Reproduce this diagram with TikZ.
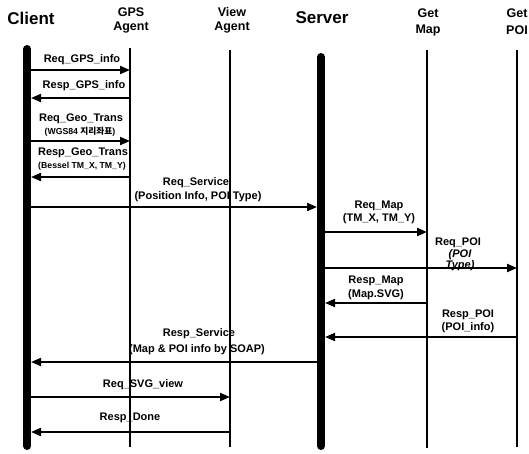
\documentclass[tikz,border=0pt]{standalone}
\usepackage{fontspec}
\setmainfont{Liberation Sans}
\newfontfamily\kr{Noto Sans CJK KR}
\usetikzlibrary{arrows.meta}
\begin{document}
\begin{tikzpicture}[x=1pt,y=-1pt,
  bighdr/.style={font=\bfseries\fontsize{17}{17}\selectfont, inner sep=0pt},
  smallhdr/.style={font=\bfseries\fontsize{12.5}{12.5}\selectfont, inner sep=0pt},
  thickline/.style={line width=8pt, line cap=round},
  thinline/.style={line width=1.3pt},
  msg/.style={line width=2pt, -{Triangle[length=10pt,width=8pt]}},
  lbl/.style={font=\bfseries\fontsize{11}{11}\selectfont, inner sep=0pt},
  sublbl/.style={font=\bfseries\fontsize{8.7}{8.7}\selectfont, inner sep=0pt},
  ilbl/.style={font=\bfseries\itshape\fontsize{11}{11}\selectfont, inner sep=0pt}]
\useasboundingbox (0,0) rectangle (529,453);
% headers
\node[bighdr] (hclient) at (31,18) {Client};
\node[smallhdr] (hgps) at (131,12) {GPS};
\node[smallhdr] (hgpsb) at (131,28) {Agent};
\node[smallhdr] (hview) at (232,12) {View};
\node[smallhdr] (hviewb) at (232,28) {Agent};
\node[bighdr] (hserver) at (322,18) {Server};
\node[smallhdr] (hmap) at (428,13) {Get};
\node[smallhdr] (hmapb) at (428,30) {Map};
\node[smallhdr] (hpoi) at (517,13) {Get};
\node[smallhdr] (hpoib) at (517,30) {POI};
% lifelines
\coordinate (cl1) at (27,49); \coordinate (cl2) at (27,446);
\coordinate (gp1) at (130,48); \coordinate (gp2) at (130,447);
\coordinate (vw1) at (230,50); \coordinate (vw2) at (230,447);
\coordinate (sv1) at (321,57); \coordinate (sv2) at (321,446);
\coordinate (mp1) at (427,50); \coordinate (mp2) at (427,448);
\coordinate (po1) at (517,50); \coordinate (po2) at (517,447);
\draw[thickline] (cl1) -- (cl2);
\draw[thickline] (sv1) -- (sv2);
\draw[thinline] (gp1) -- (gp2);
\draw[thinline] (vw1) -- (vw2);
\draw[thinline] (mp1) -- (mp2);
\draw[thinline] (po1) -- (po2);
% message end points
\coordinate (a1) at (31,70);  \coordinate (b1) at (130,70);
\coordinate (a2) at (130,98); \coordinate (b2) at (31,98);
\coordinate (a3) at (31,141); \coordinate (b3) at (130,141);
\coordinate (a4) at (130,177); \coordinate (b4) at (31,177);
\coordinate (a5) at (31,207); \coordinate (b5) at (317,207);
\coordinate (a6) at (325,232); \coordinate (b6) at (427,232);
\coordinate (a7) at (325,268); \coordinate (b7) at (517,268);
\coordinate (a8) at (427,303); \coordinate (b8) at (325,303);
\coordinate (a9) at (517,337); \coordinate (b9) at (325,337);
\coordinate (a10) at (317,362); \coordinate (b10) at (31,362);
\coordinate (a11) at (31,397); \coordinate (b11) at (230,397);
\coordinate (a12) at (230,432); \coordinate (b12) at (31,432);
\foreach \i in {1,...,12} {\draw[msg] (a\i) -- (b\i);}
% labels
\node[lbl] (l1) at (82,60) {Req\_GPS\_info};
\node[lbl] (l2) at (84,86) {Resp\_GPS\_info};
\node[lbl] (l3) at (81,119) {Req\_Geo\_Trans};
\node[sublbl] (l3s) at (80,132) {(WGS84 {\kr\bfseries 지리좌표})};
\node[lbl] (l4) at (83,153) {Resp\_Geo\_Trans};
\node[sublbl] (l4s) at (82,166) {(Bessel TM\_X, TM\_Y)};
\node[lbl] (l5) at (196,183) {Req\_Service};
\node[lbl] (l5s) at (198,197) {(Position Info, POI Type)};
\node[lbl] (l6) at (379,206) {Req\_Map};
\node[lbl] (l6s) at (379,219) {(TM\_X, TM\_Y)};
\node[lbl] (l7) at (458,243) {Req\_POI};
\node[ilbl] (l7s) at (460,255) {(POI};
\node[ilbl] (l7t) at (460,266) {Type)};
\node[lbl] (l8) at (376,281) {Resp\_Map};
\node[lbl] (l8s) at (376,295) {(Map.SVG)};
\node[lbl] (l9) at (468,315) {Resp\_POI};
\node[lbl] (l9s) at (468,328) {(POI\_info)};
\node[lbl] (l10) at (199,334) {Resp\_Service};
\node[lbl] (l10s) at (197,350) {(Map \& POI info by SOAP)};
\node[lbl] (l11) at (143,385) {Req\_SVG\_view};
\node[lbl] (l12) at (130,418) {Resp\_Done};
\end{tikzpicture}
\end{document}
